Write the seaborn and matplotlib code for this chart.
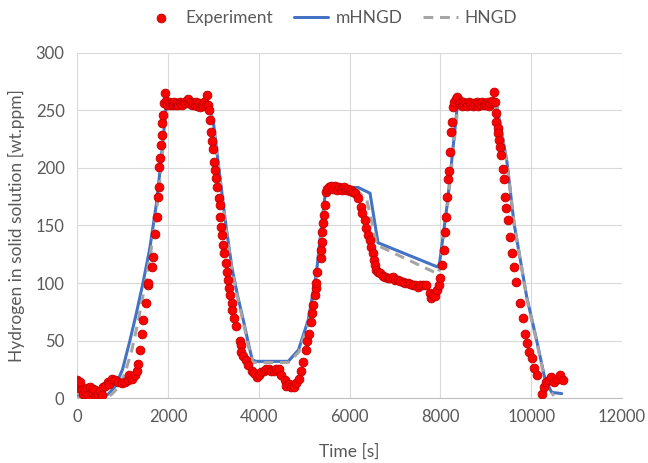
import matplotlib
matplotlib.use("Agg")
import matplotlib.pyplot as plt
import seaborn as sns
import pandas as pd

# Experiment (time [s], hydrogen [wt.ppm])
exp_t = [0, 22, 40, 66, 109, 131, 170, 219, 250, 284, 328, 360, 393, 420, 459, 500, 547, 560,
         612, 678, 700, 765, 831, 896, 984, 1049, 1115, 1150, 1202, 1268, 1312, 1333, 1377, 1421,
         1443, 1508, 1552, 1570, 1640, 1661, 1705, 1749, 1771, 1793, 1814, 1836, 1858, 1870, 1880,
         1902, 1924, 1946,
         1960, 1990, 2020, 2050, 2080, 2110, 2140, 2170, 2200, 2230, 2260, 2290, 2320, 2350, 2380,
         2410, 2440, 2470, 2500, 2530, 2560, 2590, 2620, 2650, 2680, 2710, 2740, 2770, 2800, 2830,
         2860, 2880,
         2910, 2925, 2950, 2965, 2990, 3010, 3035, 3060, 3080, 3120, 3145, 3150, 3170, 3190, 3210,
         3235, 3280, 3300, 3320, 3345, 3365, 3410, 3420, 3455, 3500, 3590, 3610, 3615, 3650, 3720,
         3760, 3850, 3890, 3960, 4000, 4040, 4110, 4160, 4220, 4280, 4330, 4390, 4440, 4500, 4570,
         4610, 4660, 4700, 4770, 4830, 4880, 4940, 4980, 5030, 5070, 5110, 5160, 5180, 5200, 5230,
         5250, 5270, 5290, 5360, 5380, 5390, 5400, 5410, 5430, 5450, 5470, 5500, 5540, 5600,
         5640, 5680, 5720, 5760, 5800, 5840, 5880, 5920, 5960, 6000, 6040, 6080,
         6120, 6185, 6250, 6270, 6340, 6360, 6400, 6450, 6470, 6510, 6540, 6560, 6580, 6620, 6660,
         6730, 6790, 6840, 6900, 6950, 7000, 7060, 7120, 7170, 7230, 7280, 7340, 7390, 7450, 7500,
         7560, 7610, 7680, 7760, 7800, 7840, 7870, 7930, 7970, 7990, 8040, 8080, 8100, 8120, 8150,
         8170, 8190, 8210, 8230, 8250, 8280, 8300, 8340, 8370, 8410,
         8440, 8470, 8500, 8530, 8560, 8590, 8620, 8650, 8680, 8710, 8740, 8770, 8800, 8830, 8860,
         8890, 8920, 8950, 8980, 9010, 9040, 9070, 9100, 9130, 9180, 9200,
         9220, 9225, 9260, 9270, 9290, 9310, 9330, 9380, 9400, 9420, 9440, 9490, 9530, 9570, 9620,
         9660, 9750, 9810, 9860, 9900, 9950, 10010, 10060, 10120, 10230, 10280, 10320, 10390,
         10430, 10500, 10560, 10630, 10710]
exp_y = [16, 9, 12, 14, 7, 4, 6, 9, 3, 10, 5, 8, 7, 2, 4, 6, 3, 10,
         11, 14, 12, 17, 16, 14, 13, 14, 16, 20, 17, 20, 24, 30, 42, 56,
         68, 83, 98, 100, 114, 123, 143, 157, 175, 183, 201, 209, 220, 229, 239,
         246, 256, 265,
         258, 255, 257, 255, 256, 255, 257, 255, 256, 255, 257, 256, 255, 257, 256,
         258, 260, 256, 257, 255, 256, 255, 257, 254, 256, 253, 255, 254, 257, 255,
         263, 255,
         250, 242, 231, 223, 216, 205, 198, 191, 183, 174, 168, 157, 149, 142, 133,
         126, 117, 110, 103, 96, 90, 83, 77, 70, 63, 50, 46, 40, 37, 33,
         29, 24, 22, 18, 20, 23, 24, 25, 25, 24, 24, 25, 25, 20, 16,
         11, 12, 10, 10, 13, 17, 24, 31, 42, 50, 56, 66, 74, 81, 90,
         96, 100, 110, 122, 129, 136, 144, 152, 159, 168, 179, 182, 183, 184,
         182, 184, 181, 183, 182, 181, 183, 181, 182, 180, 181, 179,
         178, 174, 166, 161, 155, 148, 142, 137, 131, 126, 120, 116, 111, 110, 109,
         106, 105, 104, 104, 105, 103, 103, 102, 101, 100, 100, 99, 98, 98, 97,
         98, 98, 98, 91, 87, 90, 89, 94, 98, 104, 116, 129, 144, 157, 175,
         190, 197, 214, 231, 240, 253, 257, 260, 262, 259,
         256, 254, 257, 255, 256, 254, 257, 255, 256, 254, 256, 255, 257, 254, 256,
         255, 257, 255, 256, 255, 257, 254, 256, 258, 266, 257,
         248, 240, 235, 230, 224, 218, 211, 199, 190, 175, 165, 155, 140, 126, 114,
         101, 83, 70, 56, 48, 40, 35, 26, 20, 4, 10, 14, 16,
         18, 14, 17, 20, 16]

# mHNGD model
m_t = [0, 300, 550, 700, 850, 1000, 1150, 1300, 1450, 1600, 1750, 1850, 1965, 2900, 3000,
       3130, 3270, 3410, 3540, 3670, 3780, 3860, 3950, 4650, 4875, 5090, 5270, 5380, 5465,
       5575, 6190, 6450, 6625, 7935, 7980, 8155, 8370, 9250, 9466, 9620, 9900, 10120, 10300,
       10450, 10670]
m_y = [2, 1, 0, 4, 11, 25, 48, 73, 100, 130, 170, 207, 255, 255, 240,
       197, 152, 113, 88, 66, 46, 33, 32, 32, 42, 68, 109, 149, 178,
       183, 183, 178, 135, 114, 117, 170, 253, 253, 205, 152, 88, 50, 17,
       5, 4]

# HNGD model
h_t = [0, 300, 600, 750, 900, 1050, 1200, 1340, 1480, 1620, 1760, 1860, 1970, 2900, 3000,
       3130, 3270, 3410, 3540, 3670, 3780, 3870, 3950, 4650, 4880, 5100, 5280, 5390, 5470,
       5580, 6150, 6380, 6600, 7940, 7990, 8160, 8380, 9250, 9470, 9630, 9910, 10130, 10320,
       10500]
h_y = [1, 0, 0, 3, 9, 21, 41, 66, 95, 126, 166, 204, 253, 253, 238,
       195, 150, 111, 86, 64, 44, 31, 31, 31, 40, 66, 106, 147, 176,
       181, 181, 172, 133, 108, 113, 168, 252, 252, 203, 150, 85, 47, 12,
       2]

exp_df = pd.DataFrame({"t": exp_t, "y": exp_y})
m_df = pd.DataFrame({"t": m_t, "y": m_y})
h_df = pd.DataFrame({"t": h_t, "y": h_y})

sns.set_style("white")
plt.rcParams["font.family"] = ["Lato", "DejaVu Sans"]

fig = plt.figure(figsize=(6.48, 4.63), dpi=100)
ax = fig.add_axes([0.119, 0.140, 0.841, 0.746])

txt = "#595959"
sns.lineplot(data=m_df, x="t", y="y", ax=ax, color="#4472C4", linewidth=2.2,
             estimator=None, sort=False, label="mHNGD", zorder=3)
sns.lineplot(data=h_df, x="t", y="y", ax=ax, color="#A5A5A5", linewidth=2.2,
             estimator=None, sort=False, label="HNGD", zorder=4, dashes=False)
ax.lines[-1].set_dashes([3.2, 2.2])
sns.scatterplot(data=exp_df, x="t", y="y", ax=ax, color="#FF0000", edgecolor="#C00000",
                linewidth=0.6, s=40, label="Experiment", zorder=5)

ax.set_xlim(0, 12000)
ax.set_ylim(0, 300)
ax.set_xticks(range(0, 12001, 2000))
ax.set_yticks(range(0, 301, 50))
ax.grid(True, color="#D9D9D9", linewidth=0.8)
ax.set_axisbelow(True)
for s in ["top", "right", "left"]:
    ax.spines[s].set_visible(False)
ax.spines["bottom"].set_color("#BFBFBF")
ax.spines["bottom"].set_linewidth(0.8)
ax.tick_params(axis="both", length=0, labelsize=12, colors=txt)
ax.tick_params(axis="x", pad=8)
ax.tick_params(axis="y", pad=9)
ax.set_xlabel("Time [s]", fontsize=12.5, color=txt, labelpad=13)
ax.set_ylabel("Hydrogen in solid solution [wt.ppm]", fontsize=12.5, color=txt, labelpad=8)

handles, labels = ax.get_legend_handles_labels()
order = [labels.index("Experiment"), labels.index("mHNGD"), labels.index("HNGD")]
leg = ax.legend([handles[i] for i in order], [labels[i] for i in order],
                loc="center", bbox_to_anchor=(0.51, 0.961), bbox_transform=fig.transFigure,
                ncol=3, frameon=False, fontsize=12.5, handlelength=2.0, columnspacing=1.2,
                handletextpad=0.4, labelcolor=txt)

fig.savefig("out.png", dpi=100)
